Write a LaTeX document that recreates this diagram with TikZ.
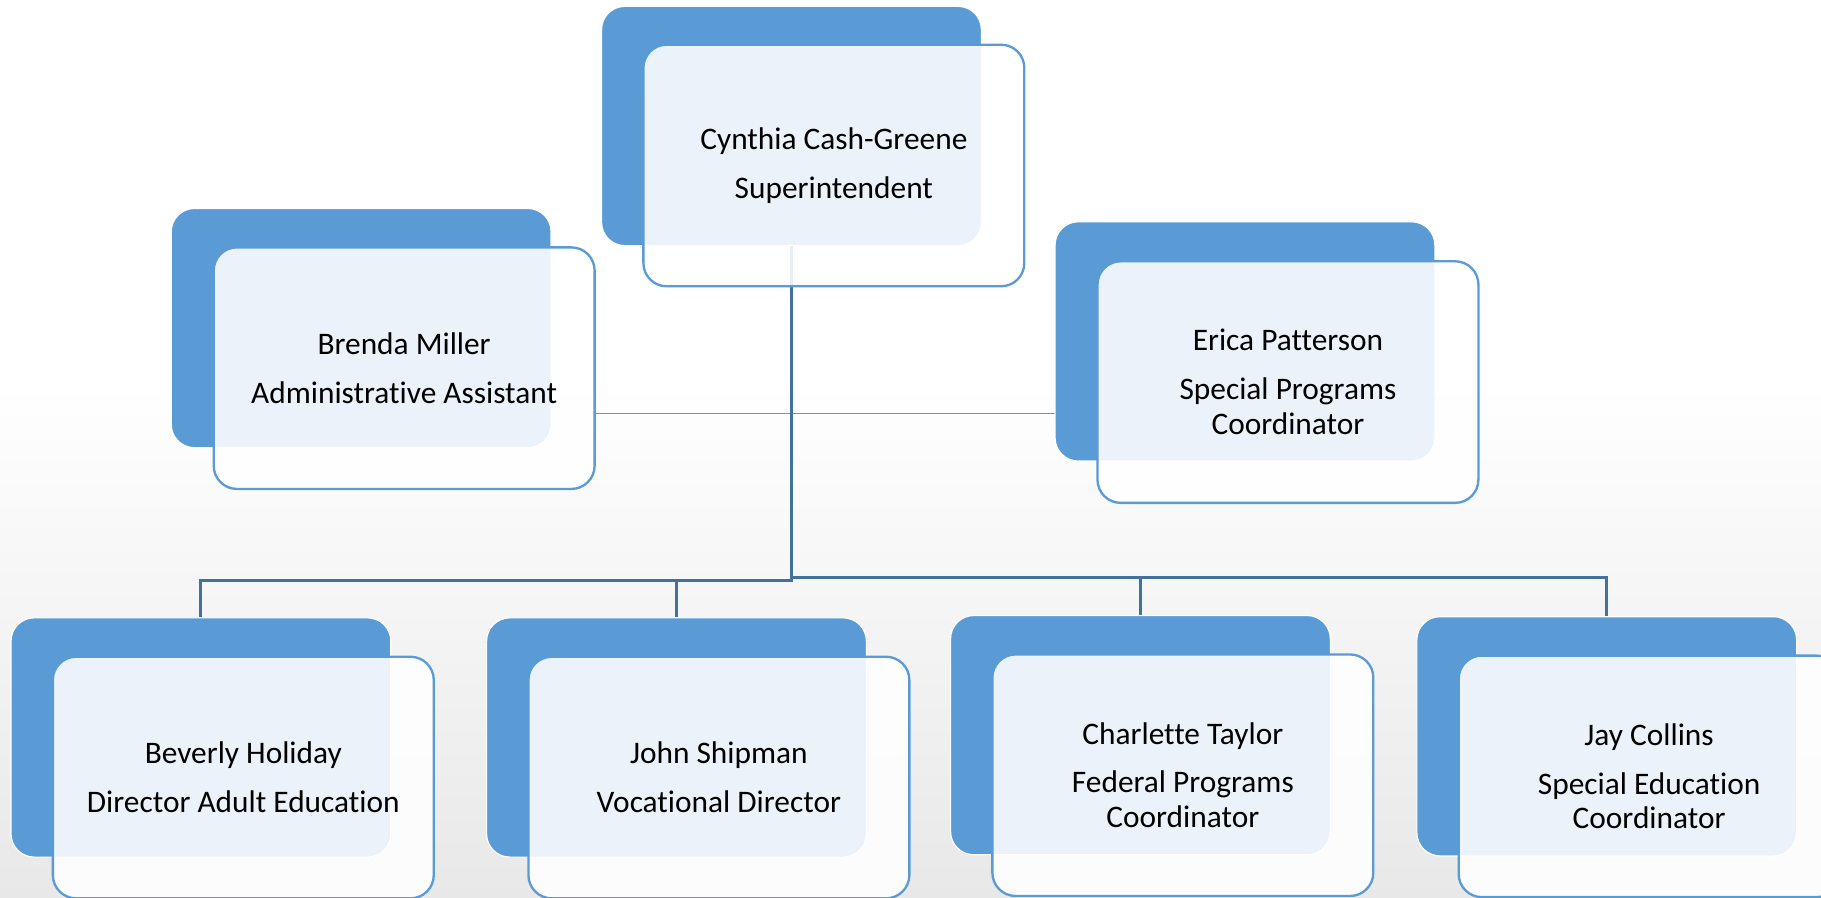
\documentclass[tikz,border=0pt]{standalone}
\usepackage{fontspec}
\setmainfont{Carlito}[Ligatures=CommonOff]
\pgfdeclarelayer{shade}
\pgfdeclarelayer{wires}
\pgfsetlayers{shade,wires,main}
\definecolor{cardblue}{HTML}{5B9BD5}
\definecolor{wireblue}{HTML}{41719C}
\tikzset{
  backcard/.style={fill=cardblue,draw=white,line width=1pt,rounded corners=20pt,minimum width=327pt,minimum height=206pt},
  frontcard/.style={fill=white,fill opacity=0.88,text opacity=1,draw=cardblue,line width=2pt,rounded corners=20pt,minimum width=328pt,minimum height=208pt,align=center,font=\fontsize{27}{30}\selectfont},
  trunk/.style={draw=wireblue,line width=2.5pt},
  sideline/.style={draw=cardblue,line width=1.2pt}
}
\begin{document}
\begin{tikzpicture}[x=1pt,y=-1pt]
    \useasboundingbox (0,0) rectangle (1568,773);
    \begin{pgfonlayer}{shade}
        \fill[white] (0,0) rectangle (1568,330);
        \shade[top color=white,bottom color=black!9] (0,330) rectangle (1568,773);
    \end{pgfonlayer}

    \node[backcard] (supB) at (681.5,108.5) {};
    \node[frontcard] (supF) at (718,142.5) {Cynthia Cash-Greene\\[12pt]Superintendent};
    \node[backcard] (brendaB) at (311,282.5) {};
    \node[frontcard] (brendaF) at (348,317) {Brenda Miller\\[12pt]Administrative Assistant};
    \node[backcard] (ericaB) at (1072,294) {};
    \node[frontcard] (ericaF) at (1109,329) {Erica Patterson\\[12pt]Special Programs\\Coordinator};
    \foreach \n/\x/\y/\t in {bev/173/635/{Beverly Holiday\\[12pt]Director Adult Education},
        john/582.5/635/{John Shipman\\[12pt]Vocational Director},
        char/982/633/{Charlette Taylor\\[12pt]Federal Programs\\Coordinator},
        jay/1383.5/634/{Jay Collins\\[12pt]Special Education\\Coordinator}}
    {
        \node[backcard] (\n B) at (\x,\y) {};
        \node[frontcard] (\n F) at (\x+36.5,\y+34.5) {\t};
    }

    \begin{pgfonlayer}{wires}
        \coordinate (assist) at (681.5,356);
        \coordinate (busL) at (681.5,500);
        \coordinate (busR) at (681.5,497);
        \draw[sideline] (brendaF.east |- assist) -- (ericaB.west |- assist);
        \draw[trunk] (supB.south) -- (busL) -| (bevB.north);
        \draw[trunk] (busL) -| (johnB.north);
        \draw[trunk] (supB.south) -- (busR) -| (charB.north);
        \draw[trunk] (busR) -| (jayB.north);
    \end{pgfonlayer}
\end{tikzpicture}
\end{document}
